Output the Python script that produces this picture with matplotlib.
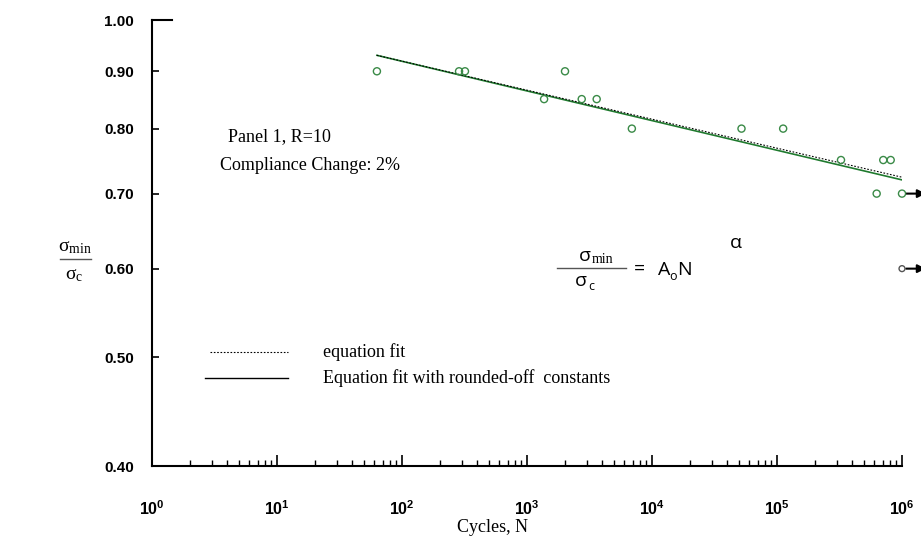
import matplotlib
matplotlib.use("Agg")
import matplotlib.pyplot as plt
from matplotlib.lines import Line2D
from matplotlib.ticker import FixedLocator, NullLocator, LogLocator, FixedFormatter

plt.rcParams['mathtext.fontset'] = 'custom'
plt.rcParams['mathtext.rm'] = 'Liberation Serif'
plt.rcParams['mathtext.bf'] = 'Liberation Sans:bold'

# test data
cycles = [63, 286, 319, 2014, 1370, 2740, 3610, 6900, 52000, 112000,
          325000, 708000, 812000, 627000]
stress_ratio = [0.90, 0.90, 0.90, 0.90, 0.85, 0.85, 0.85, 0.80, 0.80, 0.80,
                0.75, 0.75, 0.75, 0.70]

# run-outs (no failure at 10^6 cycles)
runout_cycles = [1e6, 1e6]
runout_ratio = [0.70, 0.60]

# fit lines (end points)
fit_cycles = [63, 1e6]
fit_ratio = [0.930, 0.724]          # equation fit
rounded_ratio = [0.930, 0.720]      # rounded-off constants

y_ticks = [0.40, 0.50, 0.60, 0.70, 0.80, 0.90, 1.00]
y_labels = ['0.40', '0.50', '0.60', '0.70', '0.80', '0.90', '1.00']
x_ticks = [1, 10, 100, 1000, 1e4, 1e5, 1e6]
x_labels = [r'$\mathbf{10^{%d}}$' % i for i in range(7)]

W, H = 921, 550
def fx(px):
    return px / W
def fy(py):
    return 1 - py / H

fig = plt.figure(figsize=(9.21, 5.5), dpi=100)
ax = fig.add_axes([fx(152), fy(466), 750 / W, 446 / H])

ax.set_xscale('log')
ax.set_yscale('log')
ax.set_xlim(1, 1e6)
ax.set_ylim(0.4, 1.0)

green = '#3a8a47'
ax.plot(fit_cycles, rounded_ratio, color='#1f7a2e', lw=1.2, zorder=2)
ax.plot(fit_cycles, fit_ratio, color='black', ls=(0, (1.5, 1.5)), lw=0.8, zorder=3)
ax.scatter(cycles, stress_ratio, s=26, facecolors='none', edgecolors=green,
           linewidths=1.0, zorder=4)
ax.scatter(runout_cycles[:1], runout_ratio[:1], s=26, facecolors='none',
           edgecolors=green, linewidths=1.0, zorder=4, clip_on=False)
ax.scatter(runout_cycles[1:], runout_ratio[1:], s=18, facecolors='none',
           edgecolors='#555555', linewidths=1.0, zorder=4, clip_on=False)
for xr, yr in zip(runout_cycles, runout_ratio):
    ax.annotate('', xy=(xr * 1.55, yr), xytext=(xr, yr),
                arrowprops=dict(arrowstyle='-|>', color='black', lw=1.5,
                                shrinkA=3, shrinkB=0, mutation_scale=12),
                annotation_clip=False)

# axes styling
for s in ['top', 'right']:
    ax.spines[s].set_visible(False)
for s in ['left', 'bottom']:
    ax.spines[s].set_linewidth(1.5)

ax.yaxis.set_major_locator(FixedLocator(y_ticks))
ax.yaxis.set_major_formatter(FixedFormatter(y_labels))
ax.yaxis.set_minor_locator(NullLocator())
ax.xaxis.set_major_locator(FixedLocator(x_ticks))
ax.xaxis.set_major_formatter(FixedFormatter(x_labels))
ax.xaxis.set_minor_locator(LogLocator(base=10, subs=range(2, 10)))

ax.tick_params(axis='y', which='major', direction='in', length=5, width=1.2,
               pad=13, labelsize=11)
ax.tick_params(axis='x', which='major', direction='in', length=8, width=1.2,
               pad=24, labelsize=11.5)
ax.tick_params(axis='x', which='minor', direction='in', length=4, width=1.0)
for lab in ax.get_yticklabels():
    lab.set_fontfamily('Liberation Sans')
    lab.set_fontweight('bold')

# stub at the top of the y axis
ax.plot([0, 0.027], [1.0, 1.0], transform=ax.get_yaxis_transform(),
        color='black', lw=1.5, clip_on=False)

serif = 'Liberation Serif'
sans = 'Open Sans'

fig.text(fx(492), fy(528), 'Cycles, N', family=serif,
         fontsize=13, ha='center', va='center')

# y label as fraction
fig.text(fx(75), fy(247), r'$\mathrm{\sigma_{min}}$', fontsize=14,
         ha='center', va='center')
fig.add_artist(Line2D([fx(60), fx(91)], [fy(259), fy(259)], color='#555555', lw=1))
fig.text(fx(74), fy(274), r'$\mathrm{\sigma_{c}}$', fontsize=14,
         ha='center', va='center')

# panel notes
fig.text(fx(228), fy(137), 'Panel 1, R=10', family=serif, fontsize=13,
         ha='left', va='center')
fig.text(fx(220), fy(165), 'Compliance Change: 2%', family=serif, fontsize=13,
         ha='left', va='center')

# equation
fig.text(fx(591), fy(256), 'σ', family=sans, fontsize=14, ha='right', va='center')
fig.text(fx(592), fy(260), 'min', family=serif, fontsize=10, ha='left', va='center')
fig.add_artist(Line2D([fx(557), fx(626)], [fy(268), fy(268)], color='#555555', lw=1))
fig.text(fx(587), fy(281), 'σ', family=sans, fontsize=14, ha='right', va='center')
fig.text(fx(588), fy(286), 'c', family=sans, fontsize=9, ha='left', va='center')
fig.text(fx(634), fy(269), '=', family=sans, fontsize=14, ha='left', va='center')
fig.text(fx(658), fy(270), 'A', family=sans, fontsize=14, ha='left', va='center')
fig.text(fx(669), fy(276), 'o', family=sans, fontsize=9, ha='left', va='center')
fig.text(fx(677), fy(270), 'N', family=sans, fontsize=14, ha='left', va='center')
fig.text(fx(730), fy(243), 'α', family=sans, fontsize=14, ha='left', va='center')

# legend
fig.add_artist(Line2D([fx(210), fx(288)], [fy(352), fy(352)], color='black',
                      ls=(0, (1.5, 1.5)), lw=0.8))
fig.text(fx(323), fy(352), 'equation fit', family=serif, fontsize=13,
         ha='left', va='center')
fig.add_artist(Line2D([fx(205), fx(288)], [fy(378), fy(378)], color='black', lw=1))
fig.text(fx(323), fy(378), 'Equation fit with rounded-off  constants', family=serif,
         fontsize=13, ha='left', va='center')

fig.savefig('out.png', dpi=100)
